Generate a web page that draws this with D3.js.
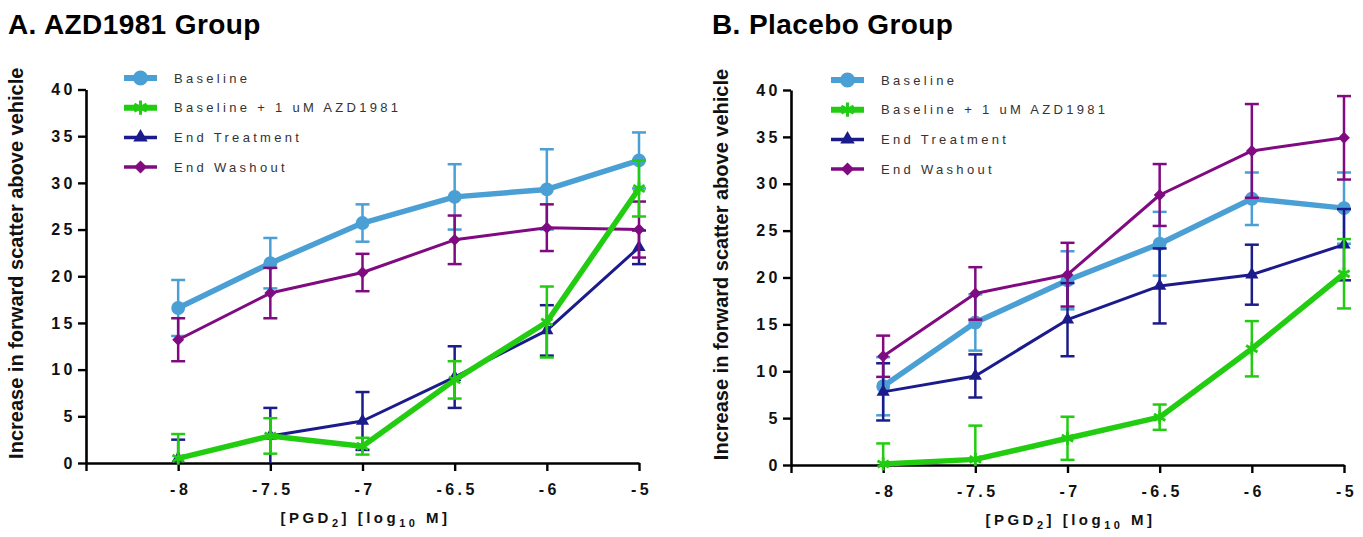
<!DOCTYPE html>
<html>
<head>
<meta charset="utf-8">
<script src="https://cdn.jsdelivr.net/npm/d3@7"></script>
<style>
  body { margin: 0; background: #fff; }
  svg { display: block; font-family: "Liberation Sans", Arial, sans-serif; }
</style>
</head>
<body>
<div id="chart"></div>
<script>
// ---------- data ----------
var xLabels = ["-8", "-7.5", "-7", "-6.5", "-6", "-5"];
var yTicks = [0, 5, 10, 15, 20, 25, 30, 35, 40];
var seriesNames = ["Baseline", "Baseline + 1 uM AZD1981", "End Treatment", "End Washout"];

// A. AZD1981 group: means and SEM
var azdBaseline = [16.6, 21.4, 25.7, 28.5, 29.3, 32.4];
var azdBaselineErr = [3.0, 2.7, 2.0, 3.5, 4.3, 3.0];
var azdBaselineAzd = [0.5, 2.9, 1.8, 8.9, 15.1, 29.4];
var azdBaselineAzdErr = [2.6, 1.9, 0.9, 2.0, 3.8, 3.0];
var azdEndTreatment = [0.5, 2.9, 4.5, 9.2, 14.2, 23.1];
var azdEndTreatmentErr = [2.0, 3.0, 3.1, 3.3, 2.7, 1.8];
var azdEndWashout = [13.2, 18.2, 20.4, 23.9, 25.2, 25.0];
var azdEndWashoutErr = [2.3, 2.7, 2.0, 2.6, 2.5, 3.0];

// B. Placebo group: means and SEM
var plaBaseline = [8.4, 15.2, 19.7, 23.6, 28.4, 27.4];
var plaBaselineErr = [3.1, 3.0, 3.1, 3.4, 2.8, 3.8];
var plaBaselineAzd = [0.1, 0.6, 2.85, 5.1, 12.4, 20.4];
var plaBaselineAzdErr = [2.2, 3.6, 2.3, 1.35, 2.95, 3.7];
var plaEndTreatment = [7.8, 9.5, 15.5, 19.1, 20.3, 23.5];
var plaEndTreatmentErr = [3.05, 2.3, 3.9, 4.0, 3.2, 3.8];
var plaEndWashout = [11.6, 18.3, 20.3, 28.8, 33.5, 34.9];
var plaEndWashoutErr = [2.2, 2.8, 3.4, 3.3, 5.0, 4.45];

// ---------- styles per series ----------
var styles = [
  { color: "#4a9fd4", width: 5.5, symbol: d3.symbolCircle, size: 150, fill: true },
  { color: "#22cc11", width: 5.5, symbol: d3.symbolAsterisk, size: 120, fill: false },
  { color: "#1b1b8c", width: 3, symbol: d3.symbolTriangle, size: 75, fill: true },
  { color: "#800a80", width: 3, symbol: d3.symbolDiamond2, size: 90, fill: true }
];
// draw order: baseline, end treatment, end washout, baseline + AZD
var drawOrder = [0, 2, 3, 1];

var svg = d3.select("#chart").append("svg")
  .attr("width", 1363)
  .attr("height", 537);

svg.append("rect").attr("width", 1363).attr("height", 537).attr("fill", "#fff");

function drawPanel(cfg) {
  var g = svg.append("g");

  // ----------- scales ----------
  var x = d3.scalePoint()
    .domain([""].concat(xLabels))
    .range([cfg.left, cfg.right]);
  var y = d3.scaleLinear()
    .domain([0, 40])
    .range([cfg.bottom, cfg.top]);

  // ----------- axes ----------
  var xAxis = g.append("g")
    .attr("transform", "translate(0," + cfg.bottom + ")")
    .call(d3.axisBottom(x).tickSizeInner(8).tickSizeOuter(0).tickPadding(13));
  var yAxis = g.append("g")
    .attr("transform", "translate(" + cfg.left + ",0)")
    .call(d3.axisLeft(y).tickValues(yTicks).tickSizeInner(8).tickSizeOuter(0).tickPadding(3));

  [xAxis, yAxis].forEach(function(ax) {
    ax.select(".domain").attr("stroke", "#000").attr("stroke-width", 2.6);
    ax.selectAll(".tick line").attr("stroke", "#000").attr("stroke-width", 2.4);
    ax.selectAll(".tick text")
      .attr("fill", "#111")
      .style("font-size", "16px")
      .style("font-weight", "bold")
      .style("letter-spacing", "3.5px");
  });
  xAxis.selectAll(".tick text").attr("dx", "2px");
  yAxis.selectAll(".tick text").attr("dx", "1px");

  // ----------- series ----------
  var line = d3.line()
    .x(function(d, i) { return x(xLabels[i]); })
    .y(function(d) { return y(d); });

  drawOrder.forEach(function(s) {
    var st = styles[s];
    var means = cfg.means[s];
    var errs = cfg.errs[s];
    var sg = g.append("g");

    // error bars (clipped at the x axis, no cap there)
    means.forEach(function(m, i) {
      var cx = x(xLabels[i]);
      var hi = m + errs[i];
      var lo = Math.max(0, m - errs[i]);
      sg.append("line")
        .attr("x1", cx).attr("x2", cx)
        .attr("y1", y(hi)).attr("y2", y(lo))
        .attr("stroke", st.color).attr("stroke-width", 2.5);
      sg.append("line")
        .attr("x1", cx - 7).attr("x2", cx + 7)
        .attr("y1", y(hi)).attr("y2", y(hi))
        .attr("stroke", st.color).attr("stroke-width", 2.5);
      if (m - errs[i] > 0) {
        sg.append("line")
          .attr("x1", cx - 7).attr("x2", cx + 7)
          .attr("y1", y(lo)).attr("y2", y(lo))
          .attr("stroke", st.color).attr("stroke-width", 2.5);
      }
    });

    sg.append("path")
      .attr("d", line(means))
      .attr("fill", "none")
      .attr("stroke", st.color)
      .attr("stroke-width", st.width)
      .attr("stroke-linejoin", "round");

    sg.selectAll(".pt")
      .data(means)
      .enter().append("path")
      .attr("transform", function(d, i) { return "translate(" + x(xLabels[i]) + "," + y(d) + ")"; })
      .attr("d", d3.symbol().type(st.symbol).size(st.size))
      .attr("fill", st.fill ? st.color : "none")
      .attr("stroke", st.color)
      .attr("stroke-width", st.fill ? 0 : 2.8);
  });

  // ----------- legend ----------
  var lg = g.append("g");
  seriesNames.forEach(function(name, s) {
    var st = styles[s];
    var ly = cfg.legendY + s * 29.7;
    lg.append("line")
      .attr("x1", cfg.legendX).attr("x2", cfg.legendX + 33)
      .attr("y1", ly).attr("y2", ly)
      .attr("stroke", st.color).attr("stroke-width", st.width + 0.5);
    lg.append("path")
      .attr("transform", "translate(" + (cfg.legendX + 16.5) + "," + ly + ")")
      .attr("d", d3.symbol().type(st.symbol).size(st.size * 1.2))
      .attr("fill", st.fill ? st.color : "none")
      .attr("stroke", st.color)
      .attr("stroke-width", st.fill ? 0 : 3);
    lg.append("text")
      .attr("x", cfg.legendX + 50)
      .attr("y", ly + 4.5)
      .attr("fill", "#333")
      .style("font-size", "13px")
      .style("letter-spacing", "3.3px")
      .text(name);
  });

  // ----------- titles ----------
  g.append("text")
    .attr("x", cfg.titleX)
    .attr("y", 34)
    .style("font-size", "28px")
    .style("font-weight", "bold")
    .style("letter-spacing", "0.4px")
    .attr("fill", "#000")
    .text(cfg.title);

  g.append("text")
    .attr("transform", "translate(" + (cfg.left - 63) + "," + ((cfg.top + cfg.bottom) / 2 - 13) + ") rotate(-90)")
    .attr("text-anchor", "middle")
    .style("font-size", "20px")
    .style("font-weight", "bold")
    .attr("fill", "#111")
    .text("Increase in forward scatter above vehicle");

  var xt = g.append("text")
    .attr("x", (cfg.left + cfg.right) / 2 + 3)
    .attr("y", cfg.bottom + 60)
    .attr("text-anchor", "middle")
    .style("font-size", "15px")
    .style("font-weight", "bold")
    .style("letter-spacing", "3.5px")
    .attr("fill", "#111");
  xt.append("tspan").text("[PGD");
  xt.append("tspan").attr("dy", 4).style("font-size", "11px").text("2");
  xt.append("tspan").attr("dy", -4).text("] [log");
  xt.append("tspan").attr("dy", 4).style("font-size", "11px").text("10");
  xt.append("tspan").attr("dy", -4).text(" M]");
}

drawPanel({
  left: 86, right: 639, top: 89.5, bottom: 463,
  title: "A. AZD1981 Group", titleX: 8,
  legendX: 124, legendY: 78,
  means: [azdBaseline, azdBaselineAzd, azdEndTreatment, azdEndWashout],
  errs: [azdBaselineErr, azdBaselineAzdErr, azdEndTreatmentErr, azdEndWashoutErr]
});

drawPanel({
  left: 791, right: 1344, top: 90, bottom: 465,
  title: "B. Placebo Group", titleX: 712,
  legendX: 831, legendY: 80,
  means: [plaBaseline, plaBaselineAzd, plaEndTreatment, plaEndWashout],
  errs: [plaBaselineErr, plaBaselineAzdErr, plaEndTreatmentErr, plaEndWashoutErr]
});
</script>
</body>
</html>
